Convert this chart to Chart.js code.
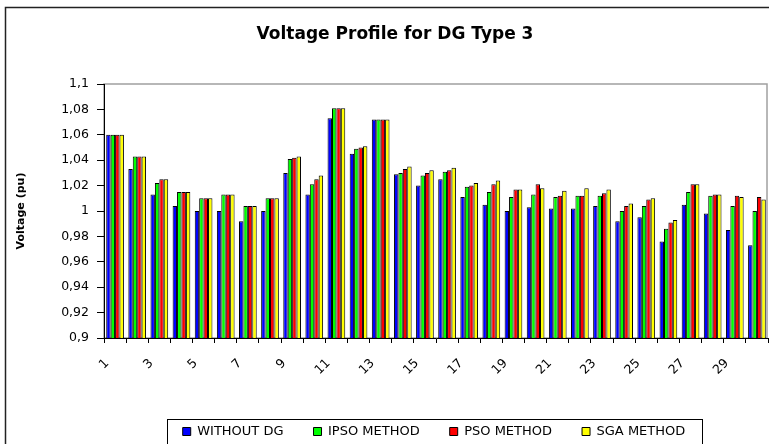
<!DOCTYPE html>
<html>
<head>
  <meta charset="utf-8" />
  <title>Voltage Profile for DG Type 3</title>
  <script src="https://cdn.jsdelivr.net/npm/chart.js"></script>
  <style>
    body { margin: 0; background: #fff; }
    #wrap { width: 769px; height: 444px; }
  </style>
</head>
<body>
  <div id="wrap"><canvas id="voltChart"></canvas></div>

  <script>
  // bus numbers 1..30
  const buses = ['1','2','3','4','5','6','7','8','9','10','11','12','13','14','15',
                 '16','17','18','19','20','21','22','23','24','25','26','27','28','29','30'];

  const withoutDG = [1.060,1.033,1.013,1.004,1.000,1.000,0.992,1.000,1.030,1.013,1.073,1.045,1.072,1.029,1.020,
                     1.025,1.011,1.005,1.000,1.003,1.002,1.002,1.004,0.992,0.995,0.976,1.005,0.998,0.985,0.973];
  const ipso      = [1.060,1.043,1.022,1.015,1.010,1.013,1.004,1.010,1.041,1.021,1.081,1.049,1.072,1.030,1.028,
                     1.031,1.019,1.015,1.011,1.013,1.011,1.012,1.012,1.000,1.004,0.986,1.015,1.012,1.004,1.000];
  const pso       = [1.060,1.043,1.025,1.015,1.010,1.013,1.004,1.010,1.042,1.025,1.081,1.050,1.072,1.033,1.030,
                     1.032,1.020,1.021,1.017,1.021,1.012,1.012,1.014,1.004,1.009,0.991,1.021,1.013,1.012,1.011];
  const sga       = [1.060,1.043,1.025,1.015,1.010,1.013,1.004,1.010,1.043,1.028,1.081,1.051,1.072,1.035,1.032,
                     1.034,1.022,1.024,1.017,1.018,1.016,1.018,1.017,1.006,1.010,0.993,1.021,1.013,1.011,1.009];

  const seriesNames = ['WITHOUT DG', 'IPSO METHOD', 'PSO METHOD', 'SGA METHOD'];
  const seriesColors = ['#0000ff', '#00ff00', '#ff0000', '#ffff00'];

  Chart.defaults.font.family = "'DejaVu Sans', Arial, sans-serif";
  Chart.defaults.color = '#000';

  // excel-ish frames: outer chart border, grey plot border, box round the legend
  const frames = {
    id: 'frames',
    afterLayout(chart) {
      chart.titleBlock.left += 7;
      chart.titleBlock.right += 7;
      const lg = chart.legend;
      lg.left += 46; lg.right += 46;
      lg.top += 4; lg.bottom += 4;
    },
    beforeDraw(chart) {
      const ctx = chart.ctx;
      const a = chart.chartArea;
      ctx.save();
      ctx.strokeStyle = '#222';
      ctx.lineWidth = 1.5;
      ctx.strokeRect(5.5, 7.5, chart.width + 50, chart.height + 50);
      ctx.strokeStyle = '#a0a0a0';
      ctx.lineWidth = 1.5;
      ctx.strokeRect(a.left, a.top, a.right - a.left - 1, a.bottom - a.top);
      ctx.restore();
    },
    afterDraw(chart) {
      const hb = chart.legend.legendHitBoxes;
      if (!hb || !hb.length) return;
      const last = hb[hb.length - 1];
      const ctx = chart.ctx;
      ctx.save();
      ctx.strokeStyle = '#000';
      ctx.lineWidth = 1;
      const x0 = Math.round(hb[0].left - 16) + 0.5;
      const x1 = Math.round(last.left + last.width + 17) + 0.5;
      const y0 = Math.round(hb[0].top - 6) + 0.5;
      ctx.strokeRect(x0, y0, x1 - x0, 60);
      ctx.restore();
    }
  };

  const datasets = [withoutDG, ipso, pso, sga].map((vals, i) => ({
    label: seriesNames[i],
    data: vals,
    backgroundColor: seriesColors[i],
    borderColor: '#000',
    borderWidth: 1,
    borderSkipped: false,
    categoryPercentage: 0.8,
    barPercentage: 1.0
  }));

  new Chart(document.getElementById('voltChart').getContext('2d'), {
    type: 'bar',
    data: { labels: buses, datasets: datasets },
    options: {
      responsive: true,
      maintainAspectRatio: false,
      animation: false,
      layout: { padding: { left: 8, right: 1, top: 0, bottom: 0 } },
      plugins: {
        title: {
          display: true,
          text: 'Voltage Profile for DG Type 3',
          font: { size: 17, weight: 'bold' },
          padding: { top: 24, bottom: 39.6 }
        },
        legend: {
          position: 'bottom',
          labels: {
            font: { size: 13 },
            boxWidth: 8,
            boxHeight: 8,
            padding: 30
          }
        },
        tooltip: { enabled: false }
      },
      scales: {
        x: {
          grid: { offset: true, drawOnChartArea: false, color: '#000', tickLength: 5 },
          border: { color: '#000', width: 1 },
          ticks: {
            autoSkip: false,
            minRotation: 45,
            maxRotation: 45,
            padding: 13,
            labelOffset: -8,
            font: { size: 12.5 },
            callback: function (v, i) { return i % 2 === 0 ? this.getLabelForValue(v) : ''; }
          },
          afterFit: s => { s.height = 53; s.paddingRight = 0; s.paddingLeft = 0; }
        },
        y: {
          min: 0.9,
          max: 1.1,
          grid: { drawOnChartArea: false, color: '#000', tickLength: 7 },
          border: { color: '#000', width: 1 },
          ticks: {
            stepSize: 0.02,
            padding: 8,
            font: { size: 12.5 },
            callback: v => parseFloat(v.toFixed(2)).toString().replace('.', ',')
          },
          title: {
            display: true,
            text: 'Voltage (pu)',
            font: { size: 11, weight: 'bold' },
            padding: { top: 7, bottom: 0 }
          },
          afterFit: s => { s.width = 96; }
        }
      }
    },
    plugins: [frames]
  });
  </script>
</body>
</html>
